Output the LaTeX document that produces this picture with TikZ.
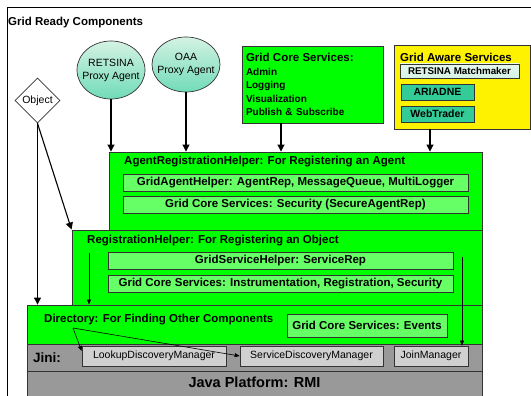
\documentclass[tikz,border=0pt]{standalone}
\usepackage{fontspec}
\setmainfont{Liberation Sans}
\usetikzlibrary{shapes.geometric,arrows.meta}
\definecolor{brightgreen}{HTML}{00FF00}
\definecolor{lightgreen}{HTML}{66FF66}
\definecolor{rowgray}{HTML}{999999}
\definecolor{boxgray}{HTML}{D0D0D0}
\definecolor{agentteal}{HTML}{33CC99}
\definecolor{paleteal}{HTML}{D4F2E4}
\definecolor{edgegray}{HTML}{333333}
\tikzset{
  lbl/.style={font=\fontsize{11.5}{13}\selectfont\bfseries,inner sep=0pt},
  big/.style={draw=edgegray,line width=0.9pt,fill=brightgreen,inner sep=0pt},
  inbox/.style={draw=edgegray,line width=0.7pt,fill=lightgreen,
    font=\fontsize{11.5}{13}\selectfont\bfseries,minimum height=17pt,inner sep=0pt},
  row/.style={draw=edgegray,line width=0.9pt,fill=rowgray,inner sep=0pt},
  jbox/.style={draw=edgegray,line width=0.7pt,fill=boxgray,minimum height=20pt,
    font=\fontsize{10.5}{12}\selectfont,inner sep=0pt},
  agent/.style={ellipse,draw=edgegray,line width=0.7pt,top color=paleteal,
    bottom color=agentteal!70,inner sep=0pt},
  agenttext/.style={align=center,font=\fontsize{10.5}{13}\selectfont,inner sep=0pt},
  tealbox/.style={draw=edgegray,line width=0.7pt,fill=agentteal,minimum width=73pt,
    minimum height=16pt,font=\fontsize{10.5}{12}\selectfont\bfseries,inner sep=0pt},
  bigarr/.style={-{Triangle[length=7pt,width=7pt]},line width=1.1pt},
  thinarr/.style={-{Triangle[length=5pt,width=4pt]},line width=0.6pt}
}
\begin{document}
\begin{tikzpicture}[x=1pt,y=-1pt]
  \useasboundingbox (0,0) rectangle (531,396);
  % frame
  \draw[line width=0.8pt] (7,400) -- (7,7) -- (540,7);
  \node[lbl,anchor=west] (title) at (8,23) {Grid Ready Components};

  % agents and services on top
  \node[agent,minimum width=68pt,minimum height=58pt] (retsina) at (111,70) {};
  \node[agenttext] (retsinalab) at (retsina) {RETSINA\\Proxy Agent};
  \node[agent,minimum width=68pt,minimum height=55pt] (oaa) at (186,64.5) {};
  \node[agenttext] (oaalab) at (oaa) {OAA\\Proxy Agent};
  \node[diamond,draw=edgegray,line width=0.7pt,fill=white,aspect=1,minimum size=45pt,
    inner sep=0pt,font=\fontsize{10.5}{12}\selectfont] (obj) at (37.5,100.5) {Object};
  \node[big,minimum width=141pt,minimum height=77pt,align=left,text width=133pt,
    font=\fontsize{10}{13.5}\selectfont\bfseries] (core) at (312.5,84.5)
    {{\fontsize{11.5}{13.5}\selectfont Grid Core Services:}\\Admin\\Logging\\Visualization\\Publish \& Subscribe};
  \node[big,fill=yellow,minimum width=136pt,minimum height=84pt] (aware) at (462,87) {};
  \node[lbl,anchor=west] (awarelab) at (400,57) {Grid Aware Services};
  \node[draw=edgegray,line width=0.7pt,top color=paleteal!60,bottom color=paleteal,
    minimum width=119pt,minimum height=14pt,inner sep=0pt,
    font=\fontsize{9.8}{11}\selectfont\bfseries] (match) at (459.5,71) {RETSINA Matchmaker};
  \node[tealbox] (ariadne) at (437.5,92) {ARIADNE};
  \node[tealbox] (web) at (437.5,114) {WebTrader};

  % stacked layers
  \node[big,minimum width=373pt,minimum height=80pt] (arh) at (295.5,192) {};
  \node[lbl,anchor=west] (arhlab) at (124,162) {AgentRegistrationHelper: For Registering an Agent};
  \node[inbox,minimum width=345pt] (gah) at (295.5,182.5) {GridAgentHelper: AgentRep, MessageQueue, MultiLogger};
  \node[inbox,minimum width=345pt] (sec) at (295.5,204.5) {Grid Core Services: Security (SecureAgentRep)};

  \node[big,minimum width=410pt,minimum height=76pt] (rh) at (277,268) {};
  \node[lbl,anchor=west] (rhlab) at (87,241) {RegistrationHelper: For Registering an Object};
  \node[inbox,minimum width=345pt] (gsh) at (280.5,260.5) {GridServiceHelper: ServiceRep};
  \node[inbox,minimum width=345pt] (instr) at (280.5,283.5) {Grid Core Services: Instrumentation, Registration, Security};

  \node[big,minimum width=455pt,minimum height=40pt] (dir) at (254.5,325) {};
  \node[lbl,anchor=west] (dirlab) at (44,320) {Directory: For Finding Other Components};
  \node[inbox,minimum width=160pt,minimum height=23pt] (events) at (367,325.5) {Grid Core Services: Events};

  \node[row,minimum width=455pt,minimum height=27pt] (jini) at (254.5,357.5) {};
  \node[lbl,anchor=west,font=\fontsize{13.5}{15}\selectfont\bfseries] (jinilab) at (33,358) {Jini:};
  \node[jbox,minimum width=144pt] (ldm) at (154,356) {LookupDiscoveryManager};
  \node[jbox,minimum width=143pt] (sdm) at (311.5,356) {ServiceDiscoveryManager};
  \node[jbox,minimum width=74pt] (jm) at (431,356) {JoinManager};

  \node[row,minimum width=455pt,minimum height=29pt] (java) at (254.5,385.5) {};
  \node[lbl,font=\fontsize{14.5}{16}\selectfont\bfseries] (javalab) at (254.5,382.5) {Java Platform: RMI};

  % connectors
  \coordinate (coreout) at (281,123);
  \coordinate (awareout) at (430,129);
  \coordinate (rhin) at (89,253);
  \coordinate (joinin) at (462,257);
  \coordinate (dirout) at (73,328);
  \begin{scope}[bigarr]
    \draw (retsina.south) to (retsina.south |- arh.north);
    \draw (oaa.south) to (oaa.south |- arh.north);
    \draw (coreout) to (coreout |- arh.north);
    \draw (awareout) to (awareout |- arh.north);
    \draw (obj.south) to (obj.south |- dir.north);
    \draw (obj.south) to (rh.north west);
  \end{scope}
  \begin{scope}[thinarr]
    \draw (rhin) to (rhin |- dir.north);
    \draw (joinin) to (joinin |- jm.north);
    \draw (dirout) to (ldm.176);
    \draw (dirout) to (sdm.west);
  \end{scope}
\end{tikzpicture}
\end{document}
